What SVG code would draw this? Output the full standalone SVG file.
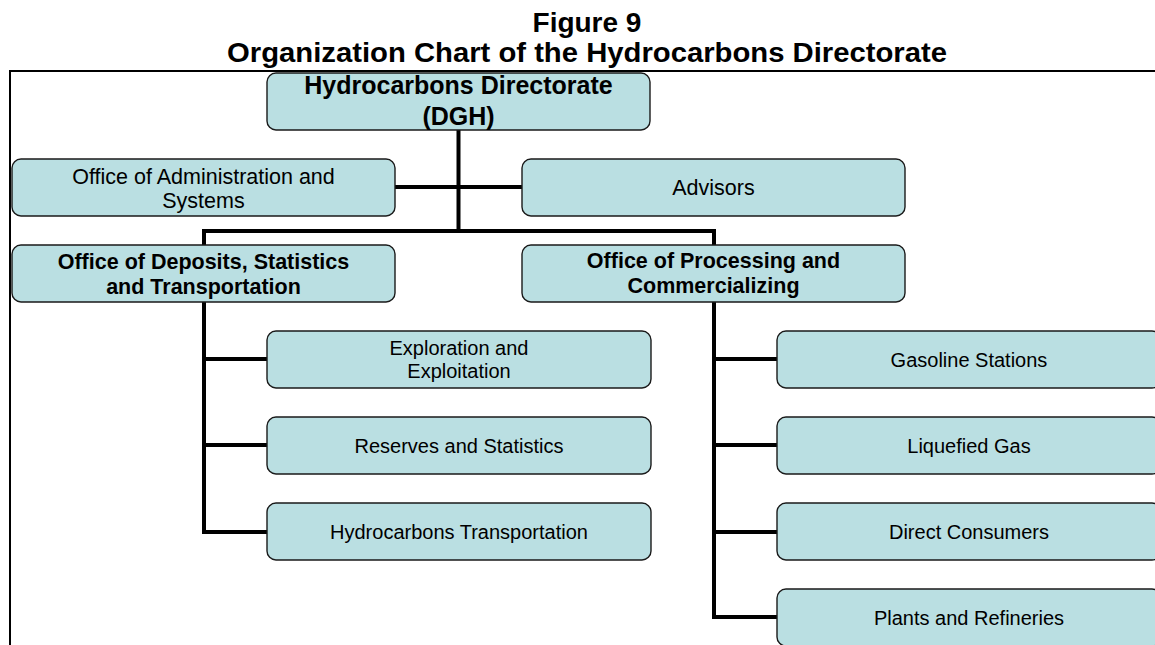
<svg xmlns="http://www.w3.org/2000/svg" width="1155" height="645" viewBox="0 0 1155 645">
  <style>
    .box { fill: #badfe2; stroke: #1a1a1a; stroke-width: 1.4; }
    .title { font-family: "Liberation Sans", Arial, sans-serif; font-weight: bold; font-size: 28px; fill: #000; text-anchor: middle; }
    .bold { font-family: "Liberation Sans", Arial, sans-serif; font-weight: bold; font-size: 21.5px; fill: #000; text-anchor: middle; }
    .head { font-family: "Liberation Sans", Arial, sans-serif; font-weight: bold; font-size: 25px; fill: #000; text-anchor: middle; }
    .big { font-family: "Liberation Sans", Arial, sans-serif; font-size: 21.5px; fill: #000; text-anchor: middle; }
    .txt { font-family: "Liberation Sans", Arial, sans-serif; font-size: 20px; fill: #000; text-anchor: middle; }
    .link { fill: none; stroke: #000; stroke-width: 4; stroke-linecap: butt; stroke-linejoin: miter; }
    .frame { fill: none; stroke: #000; stroke-width: 2; }
  </style>

  <rect x="0" y="0" width="1155" height="645" fill="#ffffff"/>

  <!-- heading -->
  <g id="heading">
    <text class="title" x="587" y="32">Figure 9</text>
    <text class="title" x="587" y="62" textLength="720" lengthAdjust="spacingAndGlyphs">Organization Chart of the Hydrocarbons Directorate</text>
  </g>

  <!-- page frame -->
  <path class="frame" d="M10,645 V71 H1155"/>

  <!-- connectors -->
  <g id="connectors">
    <path class="link" d="M458.5,130 V231"/>
    <path class="link" d="M395,187 H522"/>
    <path class="link" d="M204,245 V231 H714 V245"/>
    <path class="link" d="M204,302 V532 H267"/>
    <path class="link" d="M204,359 H267"/>
    <path class="link" d="M204,445 H267"/>
    <path class="link" d="M714,302 V617 H778"/>
    <path class="link" d="M714,359 H778"/>
    <path class="link" d="M714,445 H778"/>
    <path class="link" d="M714,532 H778"/>
  </g>

  <!-- nodes -->
  <g id="dgh">
    <rect class="box" x="267" y="73" width="383" height="57" rx="9"/>
    <text class="head" x="458.5" y="94">Hydrocarbons Directorate</text>
    <text class="head" x="458.5" y="125">(DGH)</text>
  </g>

  <g id="admin">
    <rect class="box" x="12" y="159" width="383" height="57" rx="9"/>
    <text class="big" x="203.5" y="184">Office of Administration and</text>
    <text class="big" x="203.5" y="208">Systems</text>
  </g>

  <g id="advisors">
    <rect class="box" x="522" y="159" width="383" height="57" rx="9"/>
    <text class="big" x="713.5" y="195">Advisors</text>
  </g>

  <g id="deposits">
    <rect class="box" x="12" y="245" width="383" height="57" rx="9"/>
    <text class="bold" x="203.5" y="269">Office of Deposits, Statistics</text>
    <text class="bold" x="203.5" y="294">and Transportation</text>
  </g>

  <g id="processing">
    <rect class="box" x="522" y="245" width="383" height="57" rx="9"/>
    <text class="bold" x="713.5" y="268">Office of Processing and</text>
    <text class="bold" x="713.5" y="293">Commercializing</text>
  </g>

  <g id="exploration">
    <rect class="box" x="267" y="331" width="384" height="57" rx="9"/>
    <text class="txt" x="459" y="355">Exploration and</text>
    <text class="txt" x="459" y="378">Exploitation</text>
  </g>

  <g id="reserves">
    <rect class="box" x="267" y="417" width="384" height="57" rx="9"/>
    <text class="txt" x="459" y="453">Reserves and Statistics</text>
  </g>

  <g id="transportation">
    <rect class="box" x="267" y="503" width="384" height="57" rx="9"/>
    <text class="txt" x="459" y="539">Hydrocarbons Transportation</text>
  </g>

  <g id="gasoline">
    <rect class="box" x="777" y="331" width="384" height="57" rx="9"/>
    <text class="txt" x="969" y="367">Gasoline Stations</text>
  </g>

  <g id="liquefied">
    <rect class="box" x="777" y="417" width="384" height="57" rx="9"/>
    <text class="txt" x="969" y="453">Liquefied Gas</text>
  </g>

  <g id="consumers">
    <rect class="box" x="777" y="503" width="384" height="57" rx="9"/>
    <text class="txt" x="969" y="539">Direct Consumers</text>
  </g>

  <g id="refineries">
    <rect class="box" x="777" y="589" width="384" height="57" rx="9"/>
    <text class="txt" x="969" y="625">Plants and Refineries</text>
  </g>
</svg>
